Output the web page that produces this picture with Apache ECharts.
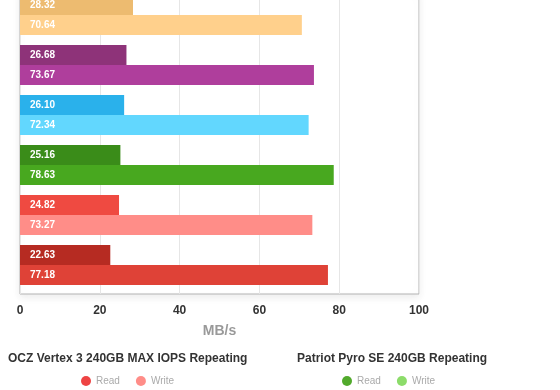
<!DOCTYPE html>
<html>
<head>
<meta charset="utf-8">
<script src="https://cdn.jsdelivr.net/npm/echarts@6/dist/echarts.min.js"></script>
<style>html,body{margin:0;padding:0;background:#fff}#c{width:560px;height:390px}</style>
</head>
<body>
<div id="c"></div>
<script>
// ---- data ----
var categories = ['Group 1', 'Group 2', 'Group 3', 'Group 4', 'Group 5', 'Group 6'];
var readValues  = [28.32, 26.68, 26.10, 25.16, 24.82, 22.63];
var writeValues = [70.64, 73.67, 72.34, 78.63, 73.27, 77.18];
var readColors  = ['#EDBB70', '#8E3379', '#2AB1EB', '#3A8C19', '#EF4A41', '#B62B22'];
var writeColors = ['#FFD08C', '#AF3E9C', '#62D7FE', '#48A81F', '#FF8D88', '#DF4237'];
var xTicks = [0, 20, 40, 60, 80, 100];
var legendGroups = [
  { title: 'OCZ Vertex 3 240GB MAX IOPS Repeating', read: '#EE4444', write: '#FF8D88' },
  { title: 'Patriot Pyro SE 240GB Repeating', read: '#52AA2C', write: '#8CDC6A' }
];
var seriesNames = ['Read', 'Write'];

var chart = echarts.init(document.getElementById('c'), null, { renderer: 'canvas' });
var font = 'Liberation Sans, Arial, Helvetica, sans-serif';

function items(vals, cols) {
  return vals.map(function (v, i) { return { value: v, itemStyle: { color: cols[i] } }; });
}
var labelStyle = {
  show: true, position: 'insideLeft', distance: 10, color: '#fff',
  fontSize: 10, fontWeight: 'bold', fontFamily: font,
  formatter: function (p) { return p.value.toFixed(2); }
};

var titleX = [8, 297];
var legendX = [81, 342];

var option = {
  backgroundColor: '#fff',
  animation: false,
  title: legendGroups.map(function (g, i) {
    return { text: g.title, left: titleX[i], top: 353, padding: 0,
      textStyle: { fontSize: 12, fontWeight: 'bold', color: '#333', fontFamily: font } };
  }),
  legend: legendGroups.map(function (g, i) {
    return {
      left: legendX[i], top: 376, padding: 0, itemGap: 16,
      itemWidth: 10, itemHeight: 10, icon: 'circle', selectedMode: false,
      textStyle: { fontSize: 10, color: '#aaa', fontFamily: font },
      data: [
        { name: seriesNames[0], itemStyle: { color: g.read } },
        { name: seriesNames[1], itemStyle: { color: g.write } }
      ]
    };
  }),
  grid: [
    { left: 20, right: 141, top: -10, bottom: 100, containLabel: false, outerBoundsMode: 'none' },
    { left: 20, right: 141, top: -10, bottom: 96, containLabel: false, outerBoundsMode: 'none', show: true,
      backgroundColor: '#fff', borderColor: '#b3b3b3', borderWidth: 1,
      shadowBlur: 8, shadowColor: 'rgba(0,0,0,0.08)', shadowOffsetY: 3, z: 0 }
  ],
  xAxis: [
    { gridIndex: 0, type: 'value', min: xTicks[0], max: xTicks[xTicks.length - 1], interval: 20, show: false },
    { gridIndex: 1, type: 'value', min: xTicks[0], max: xTicks[xTicks.length - 1], interval: 20,
      axisLine: { show: false }, axisTick: { show: false },
      splitLine: { show: true, lineStyle: { color: '#e6e6e6', width: 1 } },
      axisLabel: { margin: 11, color: '#333', fontSize: 12, fontWeight: 'bold', fontFamily: font },
      name: 'MB/s', nameLocation: 'middle', nameGap: 30,
      nameTextStyle: { color: '#999', fontSize: 14, fontWeight: 'bold', fontFamily: font } }
  ],
  yAxis: [
    { gridIndex: 0, type: 'category', data: categories, inverse: true,
      axisLine: { show: false }, axisTick: { show: false }, axisLabel: { show: false }, splitLine: { show: false } },
    { gridIndex: 1, type: 'value', show: false }
  ],
  series: [
    { name: seriesNames[0], type: 'bar', xAxisIndex: 0, yAxisIndex: 0, barGap: '0%', barCategoryGap: '20%',
      data: items(readValues, readColors), label: labelStyle, z: 3 },
    { name: seriesNames[1], type: 'bar', xAxisIndex: 0, yAxisIndex: 0, barGap: '0%', barCategoryGap: '20%',
      data: items(writeValues, writeColors), label: labelStyle, z: 3 }
  ]
};
chart.setOption(option);
</script>
</body>
</html>
